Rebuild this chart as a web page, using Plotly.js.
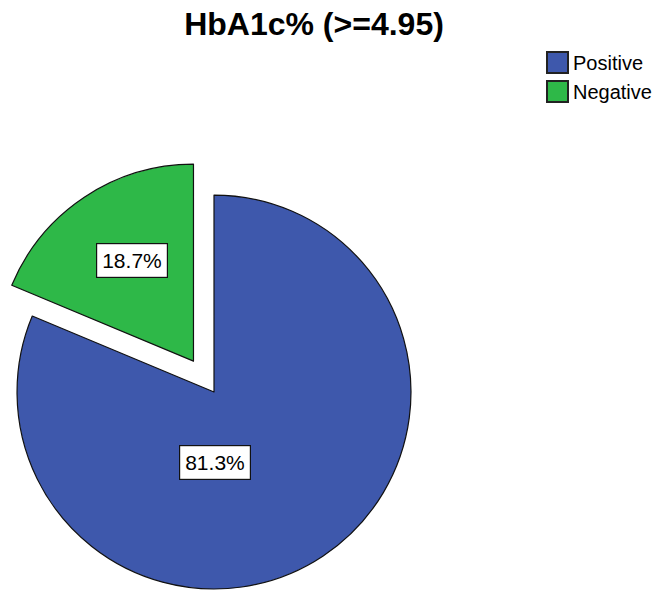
<!DOCTYPE html>
<html>
<head>
<meta charset="utf-8">
<script src="https://cdn.plot.ly/plotly-3.0.1.min.js"></script>
<style>
  html, body { margin: 0; padding: 0; background: #ffffff; overflow: hidden; }
  /* the plot area is wider and taller than the window so the exploded pie can keep its full radius */
  #chart { position: absolute; left: -40px; top: 0; width: 698px; height: 640px; }
</style>
</head>
<body>
<div id="chart"></div>
<script>
// HbA1c% (>=4.95) result split
const categories = ['Positive', 'Negative'];
const percents = [81.3, 18.7];
const sliceColors = ['#3E58AC', '#2EB848'];
const pulls = [0, 0.188];
const chartTitle = 'HbA1c% (>=4.95)';

const W = 698, H = 640;
const FONT = 'Arial, "Liberation Sans", sans-serif';

const trace = {
  type: 'pie',
  labels: categories,
  values: percents,
  sort: false,
  direction: 'clockwise',
  rotation: 0,
  pull: pulls,
  textinfo: 'none',
  hoverinfo: 'label+percent',
  marker: { colors: sliceColors, line: { color: '#111111', width: 1.2 } },
  domain: { x: [20 / W, 488 / W], y: [1 - 626 / H, 1 - 158 / H] }
};

// boxed percentage labels on each slice
const labelPos = [
  { x: 255 / W, y: 1 - 462.5 / H },
  { x: 172 / W, y: 1 - 260.5 / H }
];
const annotations = categories.map((c, i) => ({
  xref: 'paper', yref: 'paper',
  x: labelPos[i].x, y: labelPos[i].y,
  xanchor: 'center', yanchor: 'middle',
  text: percents[i].toFixed(1) + '%',
  showarrow: false,
  font: { family: FONT, size: 21, color: '#000000' },
  bgcolor: '#ffffff',
  bordercolor: '#111111',
  borderwidth: 1.2,
  borderpad: 5
}));

const layout = {
  width: W, height: H,
  margin: { l: 0, r: 0, t: 0, b: 0 },
  paper_bgcolor: '#ffffff',
  title: {
    text: chartTitle,
    font: { family: FONT, size: 32, color: '#000000', weight: 'bold' },
    x: 354 / W, xanchor: 'center',
    y: 1 - 24 / H, yanchor: 'middle',
    xref: 'paper', yref: 'paper'
  },
  showlegend: true,
  legend: {
    x: 573 / W, xanchor: 'left',
    y: 1 - 43 / H, yanchor: 'top',
    font: { family: FONT, size: 20, color: '#000000' },
    bgcolor: 'rgba(0,0,0,0)',
    borderwidth: 0,
    tracegroupgap: 0
  },
  annotations: annotations
};

Plotly.newPlot('chart', [trace], layout, { displayModeBar: false, staticPlot: true }).then(() => {
  // larger square bordered legend swatches, just left of the entry text
  document.querySelectorAll('#chart .legendpoints path').forEach(p => {
    p.setAttribute('d', 'M-10.5,-10.5H10.5V10.5H-10.5Z');
    p.setAttribute('transform', 'translate(24.5,0)');
    p.style.strokeWidth = '2px';
    p.style.stroke = '#222222';
  });
});
</script>
</body>
</html>
